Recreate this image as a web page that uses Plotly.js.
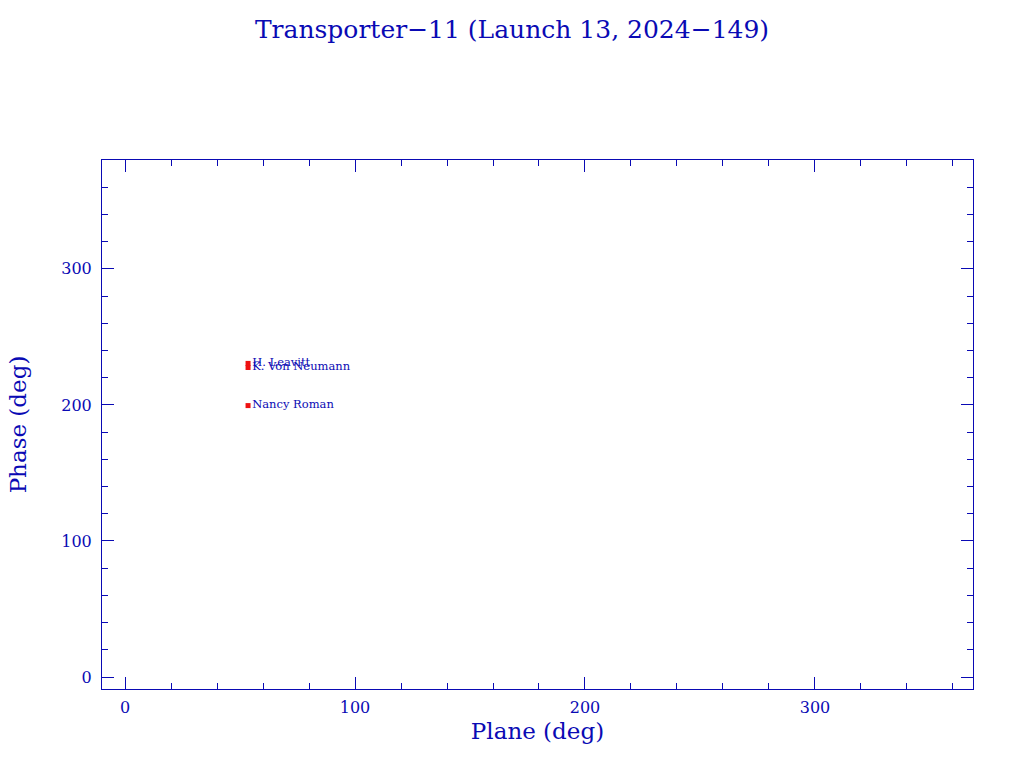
<!DOCTYPE html>
<html><head><meta charset="utf-8">
<script src="https://cdn.plot.ly/plotly-3.0.1.min.js"></script>
<style>body{margin:0;background:#fff}#c{width:1024px;height:768px}</style>
</head><body><div id="c"></div>
<script>
const names = ["H. Leavitt", "K. Von Neumann", "Nancy Roman"];
const plane = [53.5, 53.5, 53.5];
const phase = [230.5, 227.5, 199.5];
const titleText = "Transporter\u221211 (Launch 13, 2024\u2212149)";
const col = "#0a0ab4";
const fontFam = "DejaVu Serif, Liberation Serif, serif";
const trace = {
  x: plane, y: phase, text: names, mode: "markers+text", type: "scatter",
  textposition: "middle right",
  textfont: {family: fontFam, size: 11.5, color: col},
  marker: {symbol: "square", size: 5, color: "#ee1111", line: {width: 0}},
  hoverinfo: "x+y+text", cliponaxis: false
};
const axBase = {
  showgrid: false, zeroline: false, showline: true, mirror: "ticks",
  linecolor: col, linewidth: 1, ticks: "inside", ticklen: 12, tickwidth: 1,
  tickcolor: col, tickfont: {family: fontFam, size: 16, color: col},
  dtick: 100, tick0: 0,
  minor: {ticks: "inside", ticklen: 6, dtick: 20, tickcolor: col, tickwidth: 1}
};
const layout = {
  width: 1024, height: 768, paper_bgcolor: "#fff", plot_bgcolor: "#fff",
  showlegend: false,
  margin: {l: 102, r: 51, t: 160, b: 79},
  title: {text: titleText, font: {family: fontFam, size: 25, color: col}, x: 0.5, xanchor: "center", y: 0.962, yanchor: "middle"},
  xaxis: Object.assign({}, axBase, {range: [-10, 368.7], ticklabelstandoff: 4, title: {text: "Plane (deg)", font: {family: fontFam, size: 23, color: col}, standoff: 6}}),
  yaxis: Object.assign({}, axBase, {range: [-8.8, 380], ticklabelstandoff: 6, title: {text: "Phase (deg)", font: {family: fontFam, size: 23, color: col}, standoff: 28}})
};
Plotly.newPlot("c", [trace], layout, {displayModeBar: false});
</script></body></html>
